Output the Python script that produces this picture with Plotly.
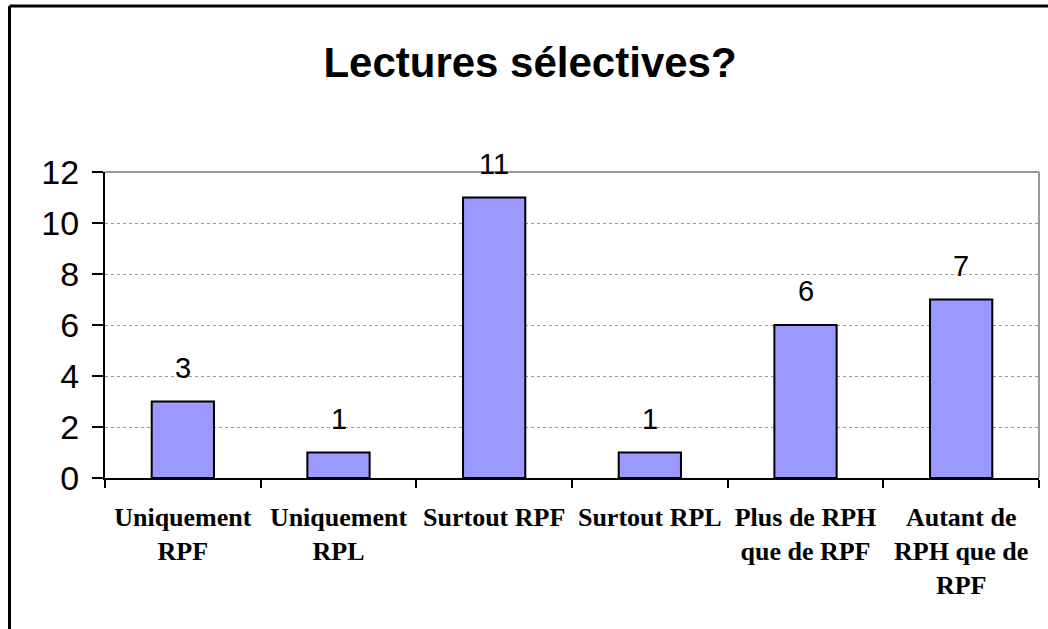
import plotly.graph_objects as go

categories = ["Uniquement<br>RPF", "Uniquement<br>RPL", "Surtout RPF", "Surtout RPL",
              "Plus de RPH<br>que de RPF", "Autant de<br>RPH que de<br>RPF"]
values = [3, 1, 11, 1, 6, 7]
title_text = "Lectures sélectives?"
y_ticks = [0, 2, 4, 6, 8, 10, 12]

W, H = 1048, 629
L, R, T, B = 105, 1039, 172, 478

fig = go.Figure()
fig.add_trace(go.Bar(
    x=categories, y=values, width=0.4,
    marker=dict(color="#9999FF", line=dict(color="black", width=2)),
    hoverinfo="x+y",
))

for c, v in zip(categories, values):
    fig.add_annotation(x=c, y=v, text=str(v), showarrow=False, yshift=34,
                       yanchor="middle",
                       font=dict(family="Liberation Sans, Arial", size=29, color="black"))

pw, ph = R - L, B - T
def px_x(x):
    return (x - L) / pw
def px_y(y):
    return (B - y) / ph

# outer frame (left and top visible)
fig.add_shape(type="line", xref="paper", yref="paper", x0=px_x(9.5), x1=px_x(1060),
              y0=px_y(6), y1=px_y(6), line=dict(color="black", width=3))
fig.add_shape(type="line", xref="paper", yref="paper", x0=px_x(9.5), x1=px_x(9.5),
              y0=px_y(6), y1=px_y(640), line=dict(color="black", width=3))
# plot area top and right borders (gray)
fig.add_shape(type="line", xref="paper", yref="paper", x0=0, x1=1, y0=1, y1=1,
              line=dict(color="#999999", width=2))
fig.add_shape(type="line", xref="paper", yref="paper", x0=1, x1=1, y0=0, y1=1,
              line=dict(color="#999999", width=2))

fig.update_layout(
    width=W, height=H,
    margin=dict(l=L, r=W - R, t=T, b=H - B, pad=0),
    paper_bgcolor="white", plot_bgcolor="white",
    showlegend=False,
    title=dict(text="<b>" + title_text + "</b>", x=530 / W, xanchor="center",
               y=1 - 62 / H, yanchor="middle", yref="container", xref="container",
               font=dict(family="Liberation Sans Narrow, Arial Narrow, Liberation Sans, Arial",
                         size=42, color="black")),
    bargap=0.6,
)
fig.update_xaxes(
    type="category", showline=True, linecolor="black", linewidth=2,
    ticks="outside", tickson="boundaries", ticklen=8, tickwidth=2, tickcolor="black",
    tickfont=dict(family="Liberation Serif, Times New Roman", size=26, color="black", weight="bold"),
    ticklabelstandoff=15, showgrid=False,
)
fig.update_yaxes(
    range=[0, 12], tickvals=y_ticks, showline=True, linecolor="black", linewidth=2,
    ticks="outside", ticklen=11, tickwidth=2, tickcolor="black",
    tickfont=dict(family="Liberation Sans, Arial", size=34, color="black"),
    showgrid=True, gridcolor="#999999", gridwidth=1, griddash="dot",
    zeroline=False, ticklabelstandoff=6,
)

fig.write_html("out.html", config={"displayModeBar": False},
               post_script="document.body.style.margin='0';document.body.style.overflow='hidden';")
